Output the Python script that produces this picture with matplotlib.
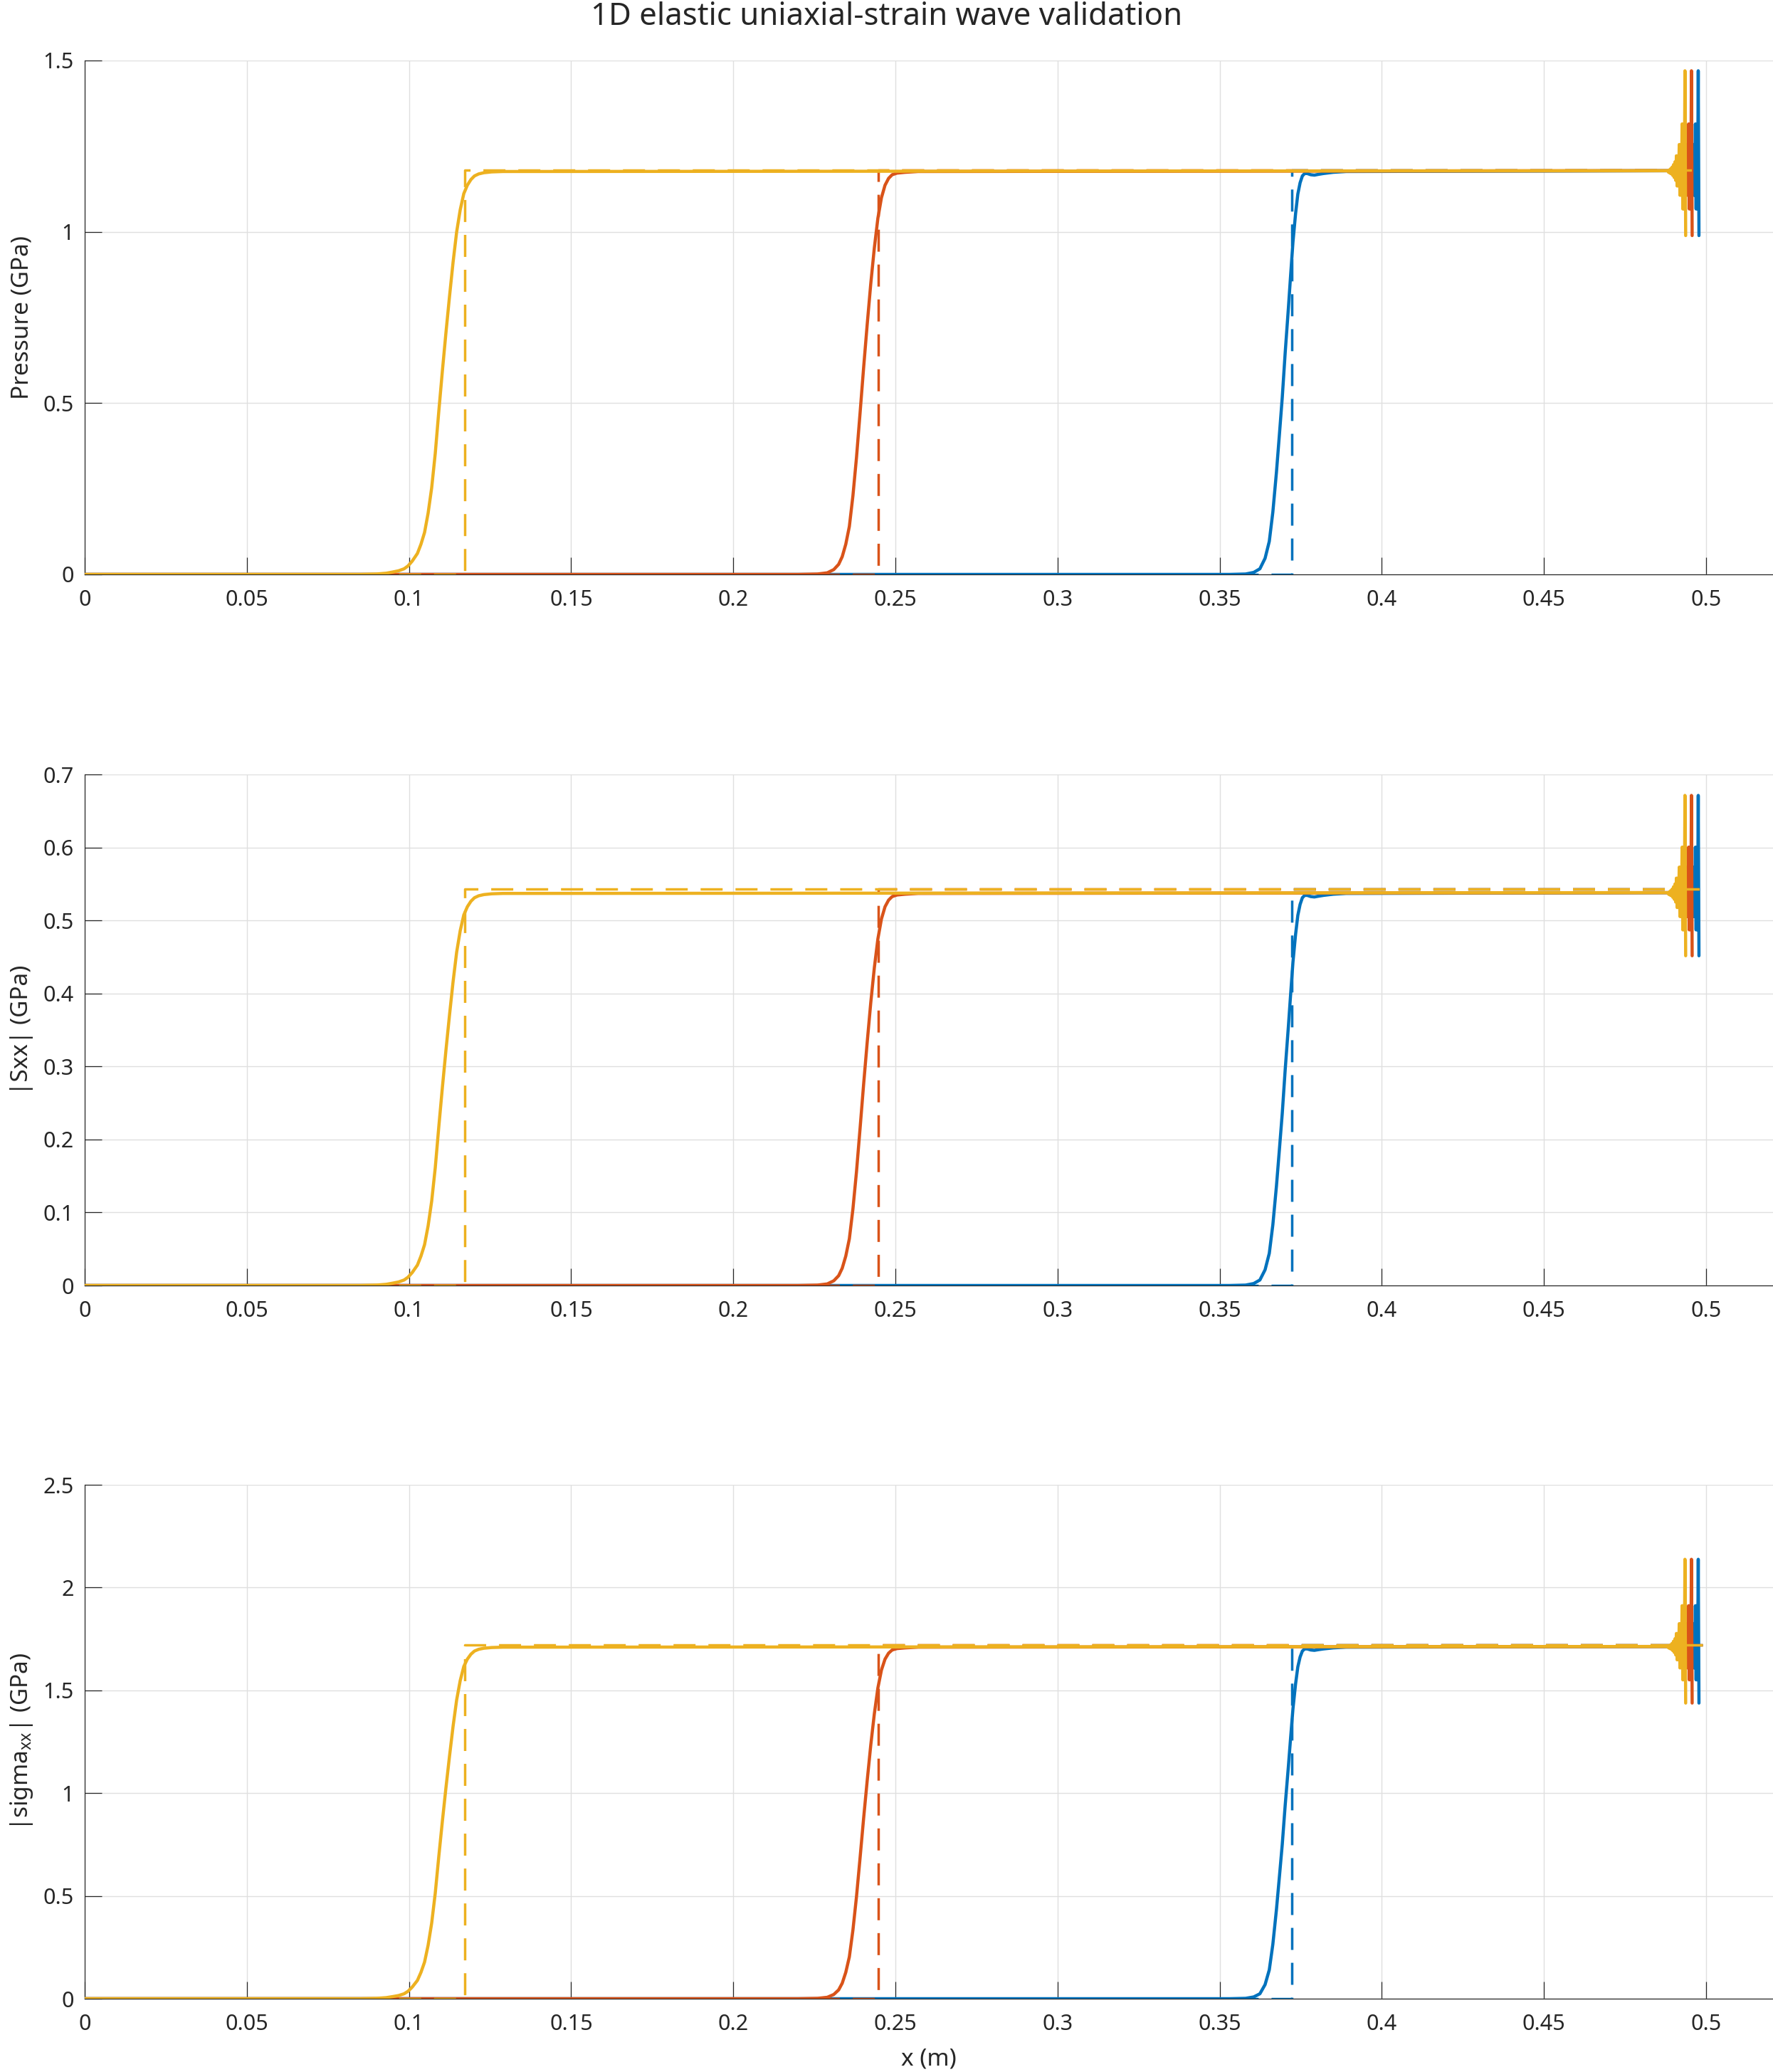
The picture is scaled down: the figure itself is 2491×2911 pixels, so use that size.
import matplotlib
matplotlib.use("Agg")
import matplotlib.pyplot as plt
from matplotlib.ticker import FuncFormatter, MultipleLocator

###############################################################################
# Data

# three snapshots, drawn in this order (MATLAB default colour order)
snap_colors = ["#0072BD", "#D95319", "#EDB120"]

# analytic front position of each snapshot (m)
front_x = [0.3723, 0.2448, 0.1173]

# x where each numerical curve stops (last spike of the boundary ringing)
end_x = [0.4978, 0.4957, 0.4937]

# rise of the numerical solution, as a fraction of its plateau
rise_x = [
    [0.3530, 0.3580, 0.3605, 0.3624, 0.3640, 0.3653, 0.3664, 0.3675,
     0.3684, 0.3693, 0.3702, 0.3712, 0.3719, 0.3726, 0.3734, 0.3741,
     0.3748, 0.3755, 0.3762, 0.3770, 0.3781, 0.3792, 0.3805, 0.3820,
     0.3850, 0.3890],
    [0.2200, 0.2260, 0.2290, 0.2310, 0.2325, 0.2336, 0.2347, 0.2358,
     0.2369, 0.2380, 0.2391, 0.2402, 0.2413, 0.2424, 0.2435, 0.2446,
     0.2457, 0.2468, 0.2479, 0.2490, 0.2505, 0.2530, 0.2570],
    [0.0850, 0.0900, 0.0930, 0.0950, 0.0968, 0.0985, 0.0997, 0.1010,
     0.1026, 0.1037, 0.1048, 0.1059, 0.1070, 0.1081, 0.1092, 0.1103,
     0.1114, 0.1125, 0.1136, 0.1147, 0.1158, 0.1169, 0.1180, 0.1191,
     0.1202, 0.1215, 0.1231, 0.1255, 0.1290],
]
rise_frac = [
    [0.0, 0.001, 0.005, 0.014, 0.040, 0.082, 0.155, 0.253,
     0.345, 0.439, 0.550, 0.662, 0.745, 0.825, 0.895, 0.944,
     0.972, 0.989, 0.995, 0.995, 0.992, 0.991, 0.993, 0.995,
     0.998, 1.0],
    [0.0, 0.001, 0.004, 0.012, 0.025, 0.044, 0.075, 0.119,
     0.195, 0.290, 0.400, 0.513, 0.620, 0.721, 0.810, 0.884,
     0.935, 0.966, 0.983, 0.992, 0.996, 0.998, 1.0],
    [0.0, 0.001, 0.003, 0.006, 0.009, 0.014, 0.021, 0.033,
     0.052, 0.075, 0.104, 0.152, 0.215, 0.300, 0.405, 0.505,
     0.600, 0.690, 0.775, 0.850, 0.905, 0.945, 0.966, 0.980,
     0.989, 0.994, 0.997, 0.999, 1.0],
]

# ringing next to the loaded boundary, fraction of plateau, left to right
tail_dev = [0.002, -0.002, 0.004, -0.004, 0.007, -0.006, 0.011, -0.010,
            0.017, -0.015, 0.024, -0.022, 0.039, -0.036, 0.039, -0.036,
            0.067, -0.059, 0.067, -0.059, 0.118, -0.093, 0.118, -0.093,
            0.250, -0.159]
tail_dx = 0.00022
analytic_end = 0.499

# one entry per panel
ylabels = ["Pressure (GPa)", "|Sxx| (GPa)",
           r"|sigma$_{\mathregular{xx}}$| (GPa)"]
plateau_num = [1.176, 0.537, 1.710]
plateau_exact = [1.180, 0.543, 1.720]
ylims = [1.5, 0.7, 2.5]
ysteps = [0.5, 0.1, 0.5]

###############################################################################
# Style

plt.rcParams["font.family"] = ["Noto Sans", "DejaVu Sans"]
plt.rcParams["mathtext.fontset"] = "custom"
plt.rcParams["mathtext.rm"] = "Noto Sans"
plt.rcParams["lines.scale_dashes"] = False

AX_COL = "#262626"
GRID_COL = "#dfdfdf"
W, H = 2491, 2911

fig = plt.figure(figsize=(W / 100, H / 100), dpi=100)

# panel extents in pixels (top, bottom), left edge at 119 px
panel_px = [(85, 807), (1088, 1806), (2086, 2808)]
left_px = 119

fmt = FuncFormatter(lambda v, p: "%g" % round(v, 6))

for k, (top, bot) in enumerate(panel_px):
    ax = fig.add_axes([left_px / W, 1 - bot / H,
                       1 - left_px / W, (bot - top) / H])

    for i in range(3):
        # numerical curve
        xs = [0.0] + rise_x[i]
        ys = [0.0] + rise_frac[i]
        n = len(tail_dev)
        xs += [end_x[i] - (n - 1 - j) * tail_dx for j in range(n)]
        ys += [1.0 + d for d in tail_dev]
        ax.plot(xs, [v * plateau_num[k] for v in ys],
                color=snap_colors[i], lw=3.2, solid_capstyle="round",
                solid_joinstyle="round", zorder=3)
        # analytic step
        ax.plot([0.0, front_x[i], front_x[i], analytic_end],
                [0.0, 0.0, plateau_exact[k], plateau_exact[k]],
                color=snap_colors[i], lw=2.5, dashes=(22.3, 13.0),
                zorder=3)

    ax.set_xlim(0, (W - left_px) / (2397 - left_px) * 0.5)
    ax.set_ylim(0, ylims[k])
    ax.set_xticks([t * 0.05 for t in range(11)])
    ax.yaxis.set_major_locator(MultipleLocator(ysteps[k]))
    ax.xaxis.set_major_formatter(fmt)
    ax.yaxis.set_major_formatter(fmt)

    ax.grid(True, color=GRID_COL, lw=1.0)
    ax.set_axisbelow(True)
    for side in ["top", "right"]:
        ax.spines[side].set_visible(False)
    for side in ["left", "bottom"]:
        ax.spines[side].set_color(AX_COL)
        ax.spines[side].set_linewidth(0.9)
    ax.tick_params(axis="both", direction="in", length=17, width=0.9,
                   color=AX_COL, labelcolor=AX_COL, labelsize=22)
    ax.tick_params(axis="x", pad=15)
    ax.tick_params(axis="y", pad=11)

    ax.set_ylabel(ylabels[k], fontsize=24, color=AX_COL, va="center")
    ax.yaxis.set_label_coords((31 - left_px) / (W - left_px), 0.5)

    if k == 2:
        ax.set_xlabel("x (m)", fontsize=24, color=AX_COL, va="center")
        ax.xaxis.set_label_coords(0.5, -(2893 - bot) / (bot - top))

fig.text(0.5, 1 - 24 / H, "1D elastic uniaxial-strain wave validation",
         ha="center", va="center", fontsize=31.5, color=AX_COL)

fig.savefig("out.png", dpi=100)
